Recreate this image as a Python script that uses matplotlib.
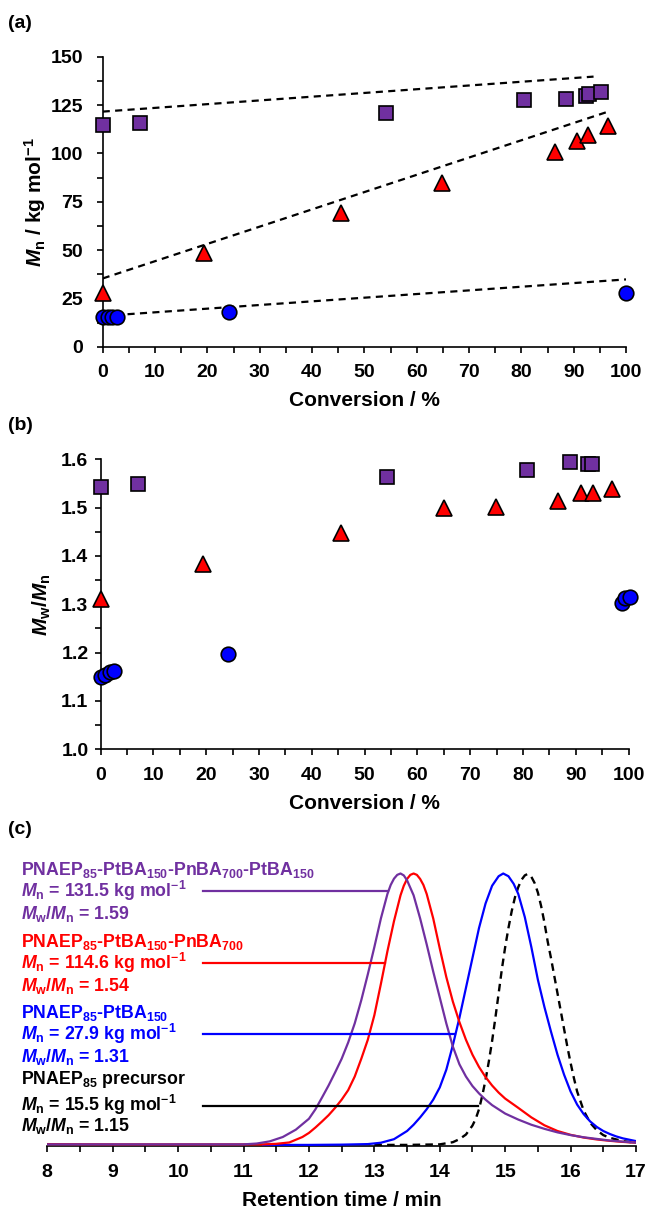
import matplotlib
matplotlib.use('Agg')
import matplotlib.pyplot as plt
from matplotlib.ticker import MultipleLocator, FormatStrFormatter

plt.rcParams['font.family'] = ['Liberation Sans', 'DejaVu Sans']
plt.rcParams['font.weight'] = 'bold'
plt.rcParams['mathtext.fontset'] = 'custom'
plt.rcParams['mathtext.rm'] = 'Liberation Sans:bold'
plt.rcParams['mathtext.it'] = 'Liberation Sans:italic:bold'
plt.rcParams['mathtext.bf'] = 'Liberation Sans:bold'

PURPLE = '#7030A0'
RED = '#FF0000'
BLUE = '#0000FF'

# ---------------- panel (a): Mn vs conversion ----------------
sq_a_x = [0, 7.1, 54.1, 80.5, 88.6, 92.3, 92.9, 95.3]
sq_a_y = [114.7, 115.9, 120.7, 127.5, 128.0, 129.5, 130.8, 131.5]
tri_a_x = [0, 19.4, 45.5, 64.9, 86.4, 90.7, 92.8, 96.6]
tri_a_y = [27.6, 48.3, 69.0, 84.5, 100.5, 106.4, 109.5, 113.9]
circ_a_x = [0, 1.0, 1.8, 2.7, 24.1, 100]
circ_a_y = [15.5, 15.5, 15.5, 15.5, 18.1, 27.9]
fit_purple_x = [0, 93.8]
fit_purple_y = [121.6, 139.7]
fit_red_x = [0, 96.6]
fit_red_y = [35.3, 121.6]
fit_blue_x = [0, 100]
fit_blue_y = [15.9, 34.8]

# ---------------- panel (b): Mw/Mn vs conversion ----------------
sq_b_x = [0, 7.1, 54.3, 80.7, 88.9, 92.4, 93.0]
sq_b_y = [1.543, 1.549, 1.564, 1.578, 1.595, 1.590, 1.591]
tri_b_x = [0, 19.4, 45.6, 65.0, 74.8, 86.6, 90.9, 93.2, 96.8]
tri_b_y = [1.311, 1.383, 1.447, 1.500, 1.502, 1.514, 1.531, 1.530, 1.538]
circ_b_x = [0, 0.9, 1.7, 2.5, 24.1, 98.7, 99.4, 100.2]
circ_b_y = [1.150, 1.154, 1.159, 1.163, 1.197, 1.302, 1.312, 1.316]

# ---------------- panel (c): GPC traces (normalised) ----------------
gpc_purple_x = [8.0, 9.0, 10.0, 11.0, 11.2, 11.4, 11.6, 11.8, 12.0, 12.1, 12.2, 12.3, 12.4,
                12.5, 12.6, 12.7, 12.8, 12.9, 13.0, 13.1, 13.2, 13.25, 13.3, 13.35, 13.4,
                13.45, 13.5, 13.6, 13.7, 13.8, 13.9, 14.0, 14.1, 14.2, 14.3, 14.4, 14.5,
                14.6, 14.7, 14.8, 15.0, 15.2, 15.4, 15.6, 15.8, 16.0, 16.2, 16.4, 16.6,
                16.8, 17.0]
gpc_purple_y = [0.006, 0.006, 0.006, 0.006, 0.009, 0.017, 0.033, 0.060, 0.100, 0.135, 0.178,
                0.222, 0.270, 0.320, 0.380, 0.450, 0.535, 0.630, 0.730, 0.835, 0.925, 0.958,
                0.981, 0.995, 1.000, 0.993, 0.975, 0.920, 0.835, 0.740, 0.640, 0.545, 0.450,
                0.365, 0.300, 0.255, 0.220, 0.193, 0.170, 0.150, 0.119, 0.097, 0.078, 0.063,
                0.050, 0.040, 0.032, 0.026, 0.020, 0.016, 0.012]

gpc_red_x = [8.0, 9.0, 10.0, 11.0, 11.3, 11.5, 11.7, 11.9, 12.0, 12.1, 12.2, 12.3, 12.4,
             12.5, 12.6, 12.7, 12.8, 12.9, 13.0, 13.1, 13.2, 13.3, 13.4, 13.45, 13.5, 13.55,
             13.6, 13.65, 13.7, 13.75, 13.8, 13.9, 14.0, 14.1, 14.2, 14.3, 14.4, 14.5, 14.6,
             14.7, 14.8, 14.9, 15.0, 15.2, 15.4, 15.6, 15.8, 16.0, 16.2, 16.4, 16.6, 16.8,
             17.0]
gpc_red_y = [0.007, 0.006, 0.006, 0.006, 0.006, 0.008, 0.013, 0.033, 0.048, 0.068, 0.090,
             0.113, 0.140, 0.170, 0.205, 0.255, 0.320, 0.390, 0.480, 0.595, 0.715, 0.825,
             0.920, 0.955, 0.980, 0.995, 1.000, 0.995, 0.980, 0.958, 0.925, 0.835, 0.725,
             0.620, 0.530, 0.455, 0.390, 0.335, 0.290, 0.253, 0.222, 0.196, 0.174, 0.140,
             0.105, 0.076, 0.055, 0.041, 0.031, 0.024, 0.019, 0.015, 0.012]

gpc_blue_x = [11.3, 12.0, 12.5, 12.9, 13.1, 13.3, 13.5, 13.6, 13.7, 13.8, 13.9, 14.0, 14.1,
              14.2, 14.3, 14.4, 14.5, 14.6, 14.7, 14.8, 14.9, 14.97, 15.05, 15.13, 15.2,
              15.3, 15.4, 15.5, 15.6, 15.7, 15.8, 15.9, 16.0, 16.1, 16.2, 16.3, 16.4, 16.5,
              16.6, 16.7, 16.8, 16.9, 17.0]
gpc_blue_y = [0.004, 0.004, 0.005, 0.007, 0.012, 0.025, 0.055, 0.078, 0.105, 0.135, 0.170,
              0.215, 0.280, 0.370, 0.470, 0.580, 0.690, 0.800, 0.890, 0.955, 0.990, 1.000,
              0.990, 0.962, 0.925, 0.840, 0.730, 0.610, 0.510, 0.420, 0.335, 0.262, 0.200,
              0.152, 0.117, 0.090, 0.070, 0.055, 0.044, 0.035, 0.028, 0.023, 0.018]

gpc_black_x = [13.0, 13.5, 14.0, 14.2, 14.3, 14.4, 14.5, 14.55, 14.6, 14.65, 14.7, 14.75,
               14.8, 14.85, 14.9, 14.95, 15.0, 15.05, 15.1, 15.15, 15.2, 15.25, 15.3, 15.34,
               15.4, 15.45, 15.5, 15.55, 15.6, 15.65, 15.7, 15.75, 15.8, 15.85, 15.9, 15.95,
               16.0, 16.05, 16.1, 16.2, 16.3, 16.4, 16.5, 16.6, 16.8, 17.0]
gpc_black_y = [0.004, 0.004, 0.006, 0.014, 0.025, 0.042, 0.075, 0.100, 0.135, 0.185, 0.243,
               0.310, 0.385, 0.470, 0.560, 0.650, 0.730, 0.800, 0.862, 0.913, 0.950, 0.977,
               0.993, 0.998, 0.988, 0.965, 0.930, 0.880, 0.820, 0.750, 0.690, 0.625, 0.560,
               0.495, 0.430, 0.365, 0.305, 0.250, 0.200, 0.130, 0.085, 0.058, 0.040, 0.030,
               0.018, 0.012]

conn_start = 10.38
conn_end = [13.21, 13.17, 14.23, 14.59]
conn_y = [0.936, 0.673, 0.411, 0.148]

label_lines = [
    (r'PNAEP$_\mathrm{85}$-PtBA$_\mathrm{150}$-PnBA$_\mathrm{700}$-PtBA$_\mathrm{150}$', PURPLE, 1.014),
    (r'$\mathit{M}_\mathrm{n}$ = 131.5 kg mol$^\mathrm{-1}$', PURPLE, 0.936),
    (r'$\mathit{M}_\mathrm{w}$/$\mathit{M}_\mathrm{n}$ = 1.59', PURPLE, 0.852),
    (r'PNAEP$_\mathrm{85}$-PtBA$_\mathrm{150}$-PnBA$_\mathrm{700}$', RED, 0.749),
    (r'$\mathit{M}_\mathrm{n}$ = 114.6 kg mol$^\mathrm{-1}$', RED, 0.673),
    (r'$\mathit{M}_\mathrm{w}$/$\mathit{M}_\mathrm{n}$ = 1.54', RED, 0.588),
    (r'PNAEP$_\mathrm{85}$-PtBA$_\mathrm{150}$', BLUE, 0.488),
    (r'$\mathit{M}_\mathrm{n}$ = 27.9 kg mol$^\mathrm{-1}$', BLUE, 0.411),
    (r'$\mathit{M}_\mathrm{w}$/$\mathit{M}_\mathrm{n}$ = 1.31', BLUE, 0.325),
    (r'PNAEP$_\mathrm{85}$ precursor', 'black', 0.243),
    (r'$\mathit{M}_\mathrm{n}$ = 15.5 kg mol$^\mathrm{-1}$', 'black', 0.150),
    (r'$\mathit{M}_\mathrm{w}$/$\mathit{M}_\mathrm{n}$ = 1.15', 'black', 0.072),
]

W, H = 650, 1211
fig = plt.figure(figsize=(W / 100, H / 100), dpi=100)

TICK_FS = 14
LAB_FS = 15


def style_axes(ax):
    for s in ['top', 'right']:
        ax.spines[s].set_visible(False)
    for s in ['left', 'bottom']:
        ax.spines[s].set_linewidth(1.2)
    ax.tick_params(which='both', direction='out', length=4.3, width=1.2,
                   labelsize=TICK_FS)
    for lab in ax.get_xticklabels() + ax.get_yticklabels():
        lab.set_fontweight('bold')


mk = dict(ls='none', mec='black', mew=1.2, clip_on=False, zorder=4)
dash = dict(color='black', lw=1.6, dashes=(3.2, 2.4), zorder=2)

# (a)
ax_a = fig.add_axes([102.7 / W, 1 - 346.7 / H, 523.3 / W, 290 / H])
ax_a.plot(fit_purple_x, fit_purple_y, **dash)
ax_a.plot(fit_red_x, fit_red_y, **dash)
ax_a.plot(fit_blue_x, fit_blue_y, **dash)
ax_a.plot(sq_a_x, sq_a_y, marker='s', ms=10, mfc=PURPLE, **mk)
ax_a.plot(tri_a_x, tri_a_y, marker='^', ms=11, mfc=RED, **mk)
ax_a.plot(circ_a_x, circ_a_y, marker='o', ms=10.5, mfc=BLUE, **mk)
ax_a.set_xlim(0, 100)
ax_a.set_ylim(0, 150)
ax_a.xaxis.set_major_locator(MultipleLocator(10))
ax_a.xaxis.set_minor_locator(MultipleLocator(5))
ax_a.yaxis.set_major_locator(MultipleLocator(25))
ax_a.yaxis.set_minor_locator(MultipleLocator(12.5))
style_axes(ax_a)
ax_a.tick_params(axis='x', which='both', pad=8.5)
ax_a.tick_params(axis='y', which='both', pad=10)
ax_a.set_xlabel('Conversion / %', fontsize=LAB_FS, fontweight='bold')
ax_a.xaxis.label.set_verticalalignment('center')
ax_a.xaxis.set_label_coords(0.5, (346.7 - 400) / 290)
ax_a.set_ylabel(r'$\mathit{M}_\mathrm{n}$ / kg mol$^\mathrm{-1}$', fontsize=LAB_FS,
                fontweight='bold')
ax_a.yaxis.label.set_verticalalignment('center')
ax_a.yaxis.set_label_coords((35 - 102.7) / 523.3, 0.5)

# (b)
ax_b = fig.add_axes([100.6 / W, 1 - 749.3 / H, 528 / W, 290 / H])
ax_b.plot(sq_b_x, sq_b_y, marker='s', ms=10, mfc=PURPLE, **mk)
ax_b.plot(tri_b_x, tri_b_y, marker='^', ms=11, mfc=RED, **mk)
ax_b.plot(circ_b_x, circ_b_y, marker='o', ms=10.5, mfc=BLUE, **mk)
ax_b.set_xlim(0, 100)
ax_b.set_ylim(1.0, 1.6)
ax_b.xaxis.set_major_locator(MultipleLocator(10))
ax_b.xaxis.set_minor_locator(MultipleLocator(5))
ax_b.yaxis.set_major_locator(MultipleLocator(0.1))
ax_b.yaxis.set_minor_locator(MultipleLocator(0.05))
ax_b.yaxis.set_major_formatter(FormatStrFormatter('%.1f'))
style_axes(ax_b)
ax_b.tick_params(axis='x', which='both', pad=8.5)
ax_b.tick_params(axis='y', which='both', pad=4.5)
ax_b.set_xlabel('Conversion / %', fontsize=LAB_FS, fontweight='bold')
ax_b.xaxis.label.set_verticalalignment('center')
ax_b.xaxis.set_label_coords(0.5, (749.3 - 803.7) / 290)
ax_b.set_ylabel(r'$\mathit{M}_\mathrm{w}$/$\mathit{M}_\mathrm{n}$', fontsize=LAB_FS,
                fontweight='bold')
ax_b.yaxis.label.set_verticalalignment('center')
ax_b.yaxis.set_label_coords((41.4 - 100.6) / 528, 0.5)

# (c)
c_h = 299.75
ax_c = fig.add_axes([47.3 / W, 1 - 1146 / H, 588.7 / W, c_h / H])
ax_c.plot(gpc_black_x, gpc_black_y, color='black', lw=1.7, dashes=(3.2, 2.2), zorder=2)
ax_c.plot(gpc_blue_x, gpc_blue_y, color=BLUE, lw=1.6, zorder=3)
ax_c.plot(gpc_red_x, gpc_red_y, color=RED, lw=1.6, zorder=3)
ax_c.plot(gpc_purple_x, gpc_purple_y, color=PURPLE, lw=1.6, zorder=3)
conn_colors = [PURPLE, RED, BLUE, 'black']
for xe, yc, col in zip(conn_end, conn_y, conn_colors):
    ax_c.plot([conn_start, xe], [yc, yc], color=col, lw=1.6, zorder=3)
for txt, col, yv in label_lines:
    ax_c.text(7.605, yv, txt, color=col, fontsize=12.8, fontweight='bold',
              ha='left', va='center', clip_on=False)
ax_c.set_xlim(8, 17)
ax_c.set_ylim(0, 1.1)
ax_c.xaxis.set_major_locator(MultipleLocator(1))
ax_c.xaxis.set_minor_locator(MultipleLocator(0.5))
for s in ['top', 'right', 'left']:
    ax_c.spines[s].set_visible(False)
ax_c.spines['bottom'].set_linewidth(1.2)
ax_c.set_yticks([])
ax_c.tick_params(axis='x', which='both', direction='out', length=4.3, width=1.2,
                 labelsize=TICK_FS, pad=8.5)
for lab in ax_c.get_xticklabels():
    lab.set_fontweight('bold')
ax_c.set_xlabel('Retention time / min', fontsize=LAB_FS, fontweight='bold')
ax_c.xaxis.label.set_verticalalignment('center')
ax_c.xaxis.set_label_coords(0.5, (1146 - 1200) / c_h)

# panel letters
for lab, yc in [('(a)', 23.3), ('(b)', 425), ('(c)', 830)]:
    fig.text(8 / W, 1 - yc / H, lab, fontsize=14, fontweight='bold',
             ha='left', va='center')

fig.savefig('out.png', dpi=100)
